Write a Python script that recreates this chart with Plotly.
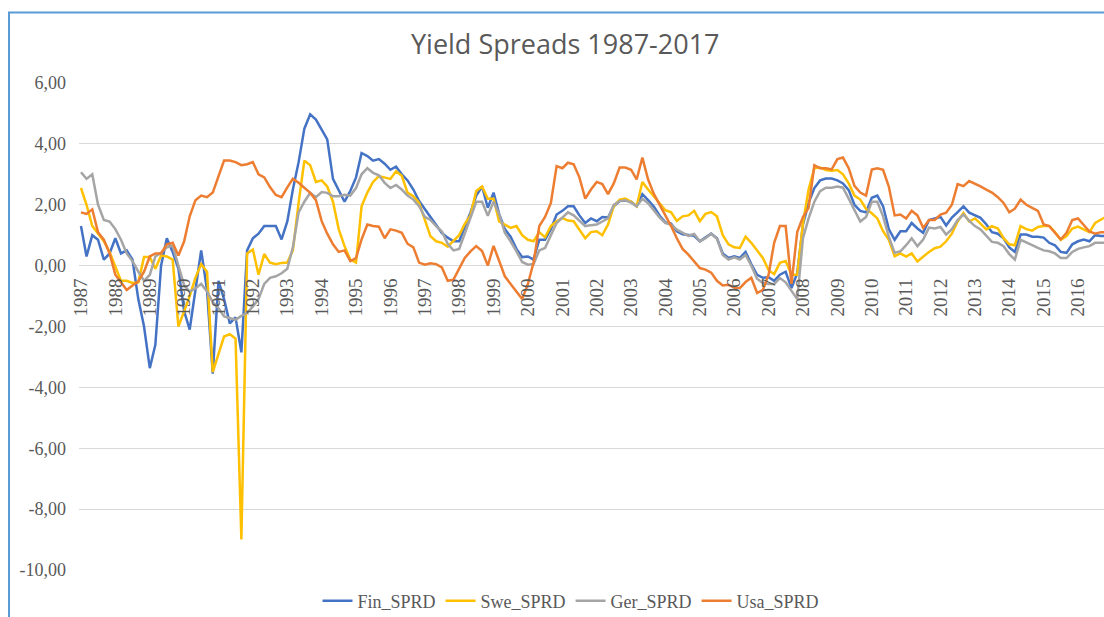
import pandas as pd
import plotly.graph_objects as go

# bimonthly observations, Jan 1987 onward
periods = pd.date_range("1987-01-01", periods=180, freq="2MS")

fin_sprd = [
    1.3, 0.3, 1.0, 0.85, 0.2, 0.4, 0.9, 0.4, 0.5, 0.2,
    -1.1, -2.0, -3.37, -2.6, 0.0, 0.9, 0.45, -0.1, -1.5, -2.1,
    -0.8, 0.5, -0.8, -3.55, -0.5, -1.1, -1.9, -1.7, -2.85, 0.5,
    0.9, 1.05, 1.3, 1.3, 1.3, 0.86, 1.45, 2.5, 3.4, 4.5,
    4.97, 4.8, 4.45, 4.15, 2.85, 2.45, 2.1, 2.45, 2.9, 3.7,
    3.6, 3.45, 3.5, 3.35, 3.15, 3.25, 3.0, 2.8, 2.5, 2.12,
    1.86, 1.58, 1.32, 1.07, 0.92, 0.8, 0.8, 1.24, 1.75, 2.3,
    2.6, 1.9, 2.4, 1.7, 1.2, 0.95, 0.55, 0.28, 0.3, 0.2,
    0.85, 0.85, 1.2, 1.68, 1.8, 1.95, 1.95, 1.65, 1.4, 1.55,
    1.46, 1.6, 1.58, 1.95, 2.12, 2.14, 2.1, 1.95, 2.35, 2.15,
    1.93, 1.64, 1.42, 1.38, 1.13, 1.03, 1.0, 0.98, 0.8, 0.93,
    1.05, 0.9, 0.4, 0.25, 0.31, 0.25, 0.45, 0.05, -0.3, -0.4,
    -0.38, -0.5, -0.3, -0.2, -0.74, -0.25, 1.35, 2.06, 2.55, 2.8,
    2.86, 2.86, 2.8, 2.7, 2.48, 2.0, 1.8, 1.75, 2.23, 2.3,
    1.95, 1.2, 0.85, 1.13, 1.13, 1.4, 1.22, 1.08, 1.5, 1.55,
    1.6, 1.32, 1.58, 1.76, 1.95, 1.74, 1.64, 1.57, 1.36, 1.1,
    1.05, 0.9, 0.6, 0.45, 1.02, 1.02, 0.95, 0.95, 0.92, 0.75,
    0.67, 0.45, 0.42, 0.7, 0.8, 0.86, 0.8, 1.0, 0.97, 0.97,
]

swe_sprd = [
    2.55, 2.0, 1.3, 1.05, 0.8, 0.45, 0.0, -0.5, -0.5, -0.57,
    -0.55, 0.28, 0.28, -0.1, 0.33, 0.3, 0.2, -2.0, -1.5, -1.0,
    -0.4, 0.05, -0.2, -3.5, -2.9, -2.33, -2.25, -2.4, -9.0, 0.4,
    0.53, -0.3, 0.38, 0.1, 0.05, 0.09, 0.1, 0.5, 2.06, 3.45,
    3.3, 2.75, 2.8, 2.6, 2.1, 1.2, 0.64, 0.2, 0.1, 1.95,
    2.4, 2.75, 2.94, 2.9, 2.85, 3.1, 2.95, 2.4, 2.28, 2.06,
    1.5, 0.97, 0.8, 0.75, 0.62, 0.8, 1.0, 1.37, 1.65, 2.45,
    2.6, 2.2, 2.2, 1.45, 1.35, 1.24, 1.3, 1.0, 0.85, 0.8,
    1.1, 0.93, 1.3, 1.46, 1.57, 1.48, 1.46, 1.2, 0.9, 1.1,
    1.13, 1.0, 1.35, 1.95, 2.17, 2.2, 2.1, 1.95, 2.75, 2.5,
    2.27, 2.02, 1.82, 1.75, 1.47, 1.62, 1.65, 1.8, 1.46, 1.7,
    1.76, 1.62, 1.0, 0.7, 0.6, 0.58, 0.95, 0.75, 0.5, 0.25,
    -0.15, -0.28, 0.09, 0.15, -0.3, -0.3, 1.4, 2.5, 3.2, 3.22,
    3.14, 3.12, 3.14, 3.0, 2.7, 2.3, 2.17, 1.86, 1.72, 1.55,
    1.13, 0.85, 0.31, 0.4, 0.3, 0.4, 0.14, 0.31, 0.45, 0.57,
    0.62, 0.8, 1.05, 1.45, 1.73, 1.45, 1.55, 1.38, 1.19, 1.3,
    1.22, 0.9, 0.7, 0.67, 1.3, 1.2, 1.15, 1.27, 1.3, 1.3,
    1.1, 0.85, 0.97, 1.22, 1.28, 1.19, 1.1, 1.4, 1.5, 1.62,
]

ger_sprd = [
    3.07, 2.85, 3.0, 2.0, 1.5, 1.45, 1.2, 0.85, 0.4, 0.15,
    -0.2, -0.5, -0.3, 0.3, 0.42, 0.6, 0.65, 0.0, -0.65, -0.85,
    -0.75, -0.6, -0.85, -1.2, -1.4, -1.67, -1.72, -1.78, -1.65, -1.55,
    -1.35, -1.1, -0.6, -0.4, -0.35, -0.25, -0.1, 0.6, 1.75, 2.1,
    2.39, 2.25, 2.42, 2.39, 2.28, 2.28, 2.33, 2.3, 2.55, 3.0,
    3.2, 3.05, 2.97, 2.72, 2.55, 2.65, 2.5, 2.3, 2.17, 1.95,
    1.6, 1.5, 1.3, 1.12, 0.72, 0.5, 0.55, 1.05, 1.55, 2.1,
    2.1, 1.64, 2.1, 1.7, 1.08, 0.8, 0.47, 0.12, 0.03, 0.05,
    0.5, 0.58, 1.0, 1.4, 1.58, 1.75, 1.65, 1.48, 1.3, 1.33,
    1.35, 1.45, 1.55, 2.0, 2.12, 2.15, 2.07, 1.95, 2.2, 2.05,
    1.82, 1.58, 1.4, 1.35, 1.18, 1.08, 0.98, 1.04, 0.8, 0.9,
    1.05, 0.88, 0.35, 0.2, 0.27, 0.2, 0.35, 0.0, -0.43, -0.57,
    -0.6, -0.6, -0.41, -0.55, -0.85, -1.1, 0.9, 1.55, 2.1, 2.45,
    2.56, 2.56, 2.6, 2.56, 2.2, 1.8, 1.45, 1.6, 2.1, 2.1,
    1.62, 0.95, 0.42, 0.47, 0.67, 0.9, 0.64, 0.86, 1.25, 1.22,
    1.27, 1.02, 1.2, 1.5, 1.68, 1.47, 1.3, 1.19, 0.98, 0.78,
    0.75, 0.64, 0.38, 0.2, 0.85, 0.75, 0.67, 0.58, 0.5, 0.47,
    0.4, 0.25, 0.25, 0.45, 0.55, 0.6, 0.64, 0.75, 0.75, 0.75,
]

usa_sprd = [
    1.75, 1.7, 1.85, 1.1, 0.85, 0.4, -0.3, -0.55, -0.8, -0.65,
    -0.52, -0.2, 0.3, 0.4, 0.4, 0.7, 0.75, 0.33, 0.8, 1.62,
    2.15, 2.3, 2.25, 2.4, 2.9, 3.45, 3.45, 3.4, 3.3, 3.33,
    3.4, 3.0, 2.9, 2.58, 2.32, 2.25, 2.57, 2.85, 2.72, 2.55,
    2.39, 2.15, 1.46, 1.05, 0.7, 0.45, 0.5, 0.15, 0.25, 0.86,
    1.35, 1.3, 1.28, 0.9, 1.19, 1.15, 1.08, 0.72, 0.6, 0.1,
    0.03, 0.08, 0.05, -0.06, -0.5, -0.46, -0.1, 0.25, 0.47, 0.64,
    0.48, 0.0, 0.65, 0.15, -0.35, -0.6, -0.85, -1.1, -0.6, 0.1,
    1.3, 1.6, 2.06, 3.27, 3.2, 3.38, 3.33, 2.9, 2.2, 2.5,
    2.75, 2.68, 2.35, 2.7, 3.22, 3.22, 3.15, 2.83, 3.55, 2.83,
    2.35, 2.0, 1.6, 1.3, 0.9, 0.55, 0.36, 0.15, -0.08, -0.13,
    -0.23, -0.5, -0.65, -0.63, -0.72, -0.74, -0.54, -0.4, -0.9, -0.8,
    -0.3, 0.75, 1.3, 1.3, -0.6, 1.1, 1.6, 1.9, 3.3, 3.2,
    3.2, 3.16, 3.5, 3.55, 3.2, 2.62, 2.4, 2.3, 3.16, 3.2,
    3.15, 2.6, 1.65, 1.68, 1.55, 1.8, 1.65, 1.24, 1.5, 1.5,
    1.68, 1.74, 2.0, 2.68, 2.61, 2.78, 2.7, 2.6, 2.5, 2.4,
    2.25, 2.06, 1.75, 1.87, 2.17, 2.0, 1.9, 1.8, 1.35, 1.3,
    1.08, 0.86, 1.08, 1.5, 1.55, 1.35, 1.12, 1.05, 1.1, 1.1,
]

series_names = ["Fin_SPRD", "Swe_SPRD", "Ger_SPRD", "Usa_SPRD"]
series_values = [fin_sprd, swe_sprd, ger_sprd, usa_sprd]
series_colors = ["#4472C4", "#FFC000", "#A5A5A5", "#ED7D31"]

year_labels = [str(y) for y in range(1987, 2017)]
year_ticks = [f"{y}-01-01" for y in year_labels]

y_tick_values = [6, 4, 2, 0, -2, -4, -6, -8, -10]
y_tick_labels = ["6,00", "4,00", "2,00", "0,00", "-2,00", "-4,00", "-6,00", "-8,00", "-10,00"]

TXT = "#595959"
SERIF = "Liberation Serif, Times New Roman, serif"

fig = go.Figure()
for name, vals, col in zip(series_names, series_values, series_colors):
    fig.add_trace(go.Scatter(
        x=periods, y=vals, name=name, mode="lines",
        line=dict(color=col, width=2.5),
    ))

fig.update_layout(
    width=1104, height=617,
    margin=dict(l=79, r=0, t=83, b=47, autoexpand=False),
    paper_bgcolor="white", plot_bgcolor="white",
    title=dict(
        text="Yield Spreads 1987-2017",
        x=0.512, xanchor="center", y=0.927, yanchor="middle",
        font=dict(family="Open Sans, sans-serif", size=27, color=TXT),
    ),
    showlegend=True,
    legend=dict(
        orientation="h", x=0.48, xanchor="center",
        y=-0.064, yanchor="middle",
        font=dict(family=SERIF, size=18, color=TXT),
        bgcolor="rgba(0,0,0,0)",
    ),
    xaxis=dict(
        type="date",
        range=["1986-12-11", "2016-10-03"],
        tickmode="array", tickvals=year_ticks, ticktext=year_labels,
        tickangle=-90,
        tickfont=dict(family=SERIF, size=19, color=TXT),
        showgrid=False, showline=False, zeroline=False, ticks="",
        anchor="free", position=0.625,
        ticklabelstandoff=8,
    ),
    yaxis=dict(
        range=[-10, 6],
        tickmode="array", tickvals=y_tick_values, ticktext=y_tick_labels,
        showgrid=True, gridcolor="#D9D9D9", gridwidth=1,
        zeroline=False, showline=False, ticks="",
        tickfont=dict(family=SERIF, size=18, color=TXT),
        ticklabelstandoff=12,
    ),
    shapes=[dict(
        type="rect", xref="paper", yref="paper",
        x0=-0.0683, x1=1.2, y0=-0.3, y1=1.1449,
        line=dict(color="#5B9BD5", width=2), fillcolor="rgba(0,0,0,0)",
        layer="below",
    )],
)

fig.write_html(
    "out.html",
    config={"displayModeBar": False},
    post_script="document.body.style.margin='0';document.body.style.overflow='hidden';",
)
